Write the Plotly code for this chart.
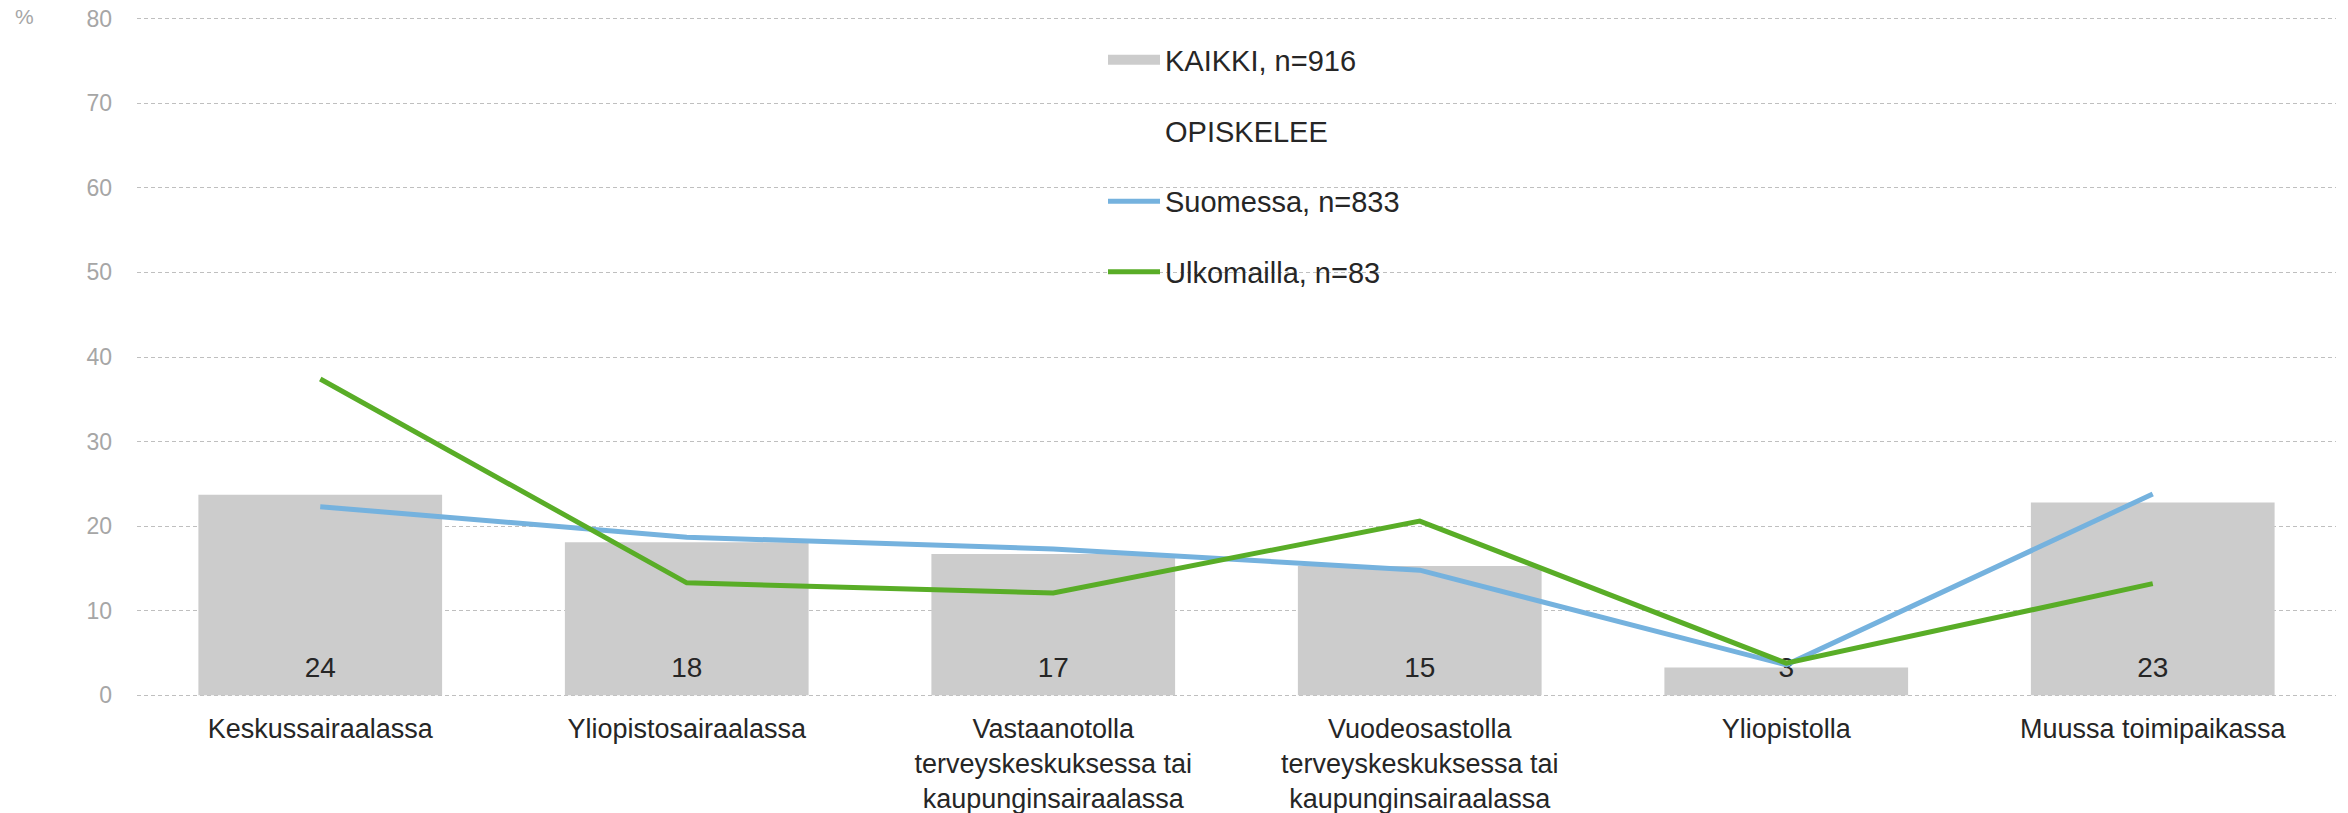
import plotly.graph_objects as go

categories = [
    "Keskussairaalassa",
    "Yliopistosairaalassa",
    "Vastaanotolla<br>terveyskeskuksessa tai<br>kaupunginsairaalassa",
    "Vuodeosastolla<br>terveyskeskuksessa tai<br>kaupunginsairaalassa",
    "Yliopistolla",
    "Muussa toimipaikassa",
]
kaikki = [23.7, 18.1, 16.7, 15.3, 3.3, 22.8]
suomessa = [22.3, 18.7, 17.3, 14.8, 3.6, 23.8]
ulkomailla = [37.4, 13.3, 12.1, 20.6, 3.8, 13.2]
y_ticks = [0, 10, 20, 30, 40, 50, 60, 70, 80]

FONT = "Liberation Sans, Arial, sans-serif"
OFF = 0  # page body margin is removed below
W, H = 2348 - OFF, 813 - OFF
L, R, T, B = 137, 12, 16.6, 116.3
PW, PH = W - L - R, H - T - B


def px_x(sx):
    # screen x -> paper x
    return (sx - OFF - L) / PW


def px_y(sy):
    # screen y -> paper y
    return (H - B - (sy - OFF)) / PH


fig = go.Figure()
fig.add_trace(go.Bar(
    x=categories, y=kaikki, name="KAIKKI, n=916", showlegend=False,
    marker=dict(color="#CCCCCC", line=dict(width=0)), hoverinfo="y",
))
# value labels near the base of each bar
fig.add_trace(go.Scatter(
    x=categories, y=[y_ticks[0]] * len(categories), mode="markers+text",
    text=[f"{v:.0f}" for v in kaikki], textposition="top center",
    textfont=dict(size=28, color="#262626", family=FONT),
    marker=dict(size=16, color="rgba(0,0,0,0)"),
    showlegend=False, hoverinfo="skip", cliponaxis=False,
))
fig.add_trace(go.Scatter(
    x=[None], y=[None], mode="lines", name="KAIKKI, n=916",
    line=dict(color="#CCCCCC", width=15), legendgroup="a",
))
fig.add_trace(go.Scatter(
    x=[None], y=[None], mode="lines", name="OPISKELEE",
    line=dict(color="rgba(0,0,0,0)", width=0), legendgroup="b",
))
fig.add_trace(go.Scatter(
    x=categories, y=suomessa, mode="lines", name="Suomessa, n=833",
    line=dict(color="#75B2DE", width=5), legendgroup="c",
))
fig.add_trace(go.Scatter(
    x=categories, y=ulkomailla, mode="lines", name="Ulkomailla, n=83",
    line=dict(color="#59AD27", width=5), legendgroup="d",
))

fig.add_shape(type="rect", xref="paper", yref="paper",
              x0=px_x(981), x1=px_x(1527), y0=px_y(320), y1=px_y(40),
              fillcolor="white", line=dict(width=0), layer="between")

fig.add_annotation(text="%", xref="paper", yref="paper",
                   x=px_x(24), y=px_y(16), xanchor="center", yanchor="middle",
                   showarrow=False, font=dict(size=21, color="#A6A6A6", family=FONT))

fig.update_layout(
    width=W, height=H, autosize=False,
    margin=dict(l=L, r=R, t=T, b=B, pad=0),
    paper_bgcolor="white", plot_bgcolor="white",
    font=dict(family=FONT, color="#262626"),
    bargap=0.335,
    showlegend=True,
    legend=dict(
        x=px_x(1103), y=px_y(34),
        xanchor="left", yanchor="top",
        bgcolor="rgba(0,0,0,0)", borderwidth=0,
        font=dict(size=29, color="#262626", family=FONT),
        tracegroupgap=30, itemwidth=52,
    ),
    xaxis=dict(
        showgrid=False, showline=False, zeroline=False, ticks="",
        tickfont=dict(size=27, color="#262626", family=FONT),
        ticklabelstandoff=13, automargin=False,
    ),
    yaxis=dict(
        range=[-0.2, 80.2], tickvals=y_ticks, showline=False, zeroline=False,
        showgrid=True, gridcolor="#BFBFBF", gridwidth=1, griddash="4px,3px",
        tickfont=dict(size=23, color="#A6A6A6", family=FONT),
        ticks="", ticklabelstandoff=24, automargin=False,
        ticklabeloverflow="allow",
    ),
)

fig.write_html("out.html", config={"displayModeBar": False},
               post_script="document.body.style.margin='0px';")
